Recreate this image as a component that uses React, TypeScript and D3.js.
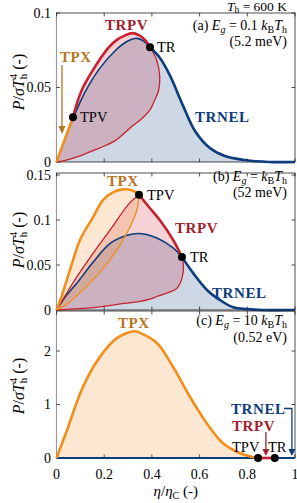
import React from 'react';
import * as d3 from 'd3';

type Pt = [number, number];

// ---- panel (a): Eg = 0.1 kB Th ----
const aTpx: Pt[] = [[0, 0], [0.069, 0.030]];
const aTrpvFront: Pt[] = [[0.069, 0.030], [0.091, 0.042], [0.111, 0.050], [0.150, 0.061], [0.182, 0.069], [0.219, 0.077], [0.253, 0.082], [0.288, 0.085], [0.317, 0.0865], [0.347, 0.085], [0.371, 0.082], [0.392, 0.077]];
const aTrpvLoop: Pt[] = [[0.392, 0.077], [0.421, 0.068], [0.433, 0.057], [0.428, 0.048], [0.413, 0.042], [0.392, 0.035], [0.350, 0.028], [0.317, 0.024], [0.248, 0.0145], [0.182, 0.0095], [0.120, 0.0055], [0.086, 0.0034], [0.041, 0.0013], [0, 0]];
const aTrnelRise: Pt[] = [[0, 0], [0.03, 0.013], [0.069, 0.029], [0.12, 0.047], [0.182, 0.063], [0.248, 0.075], [0.297, 0.081], [0.337, 0.083], [0.367, 0.081], [0.392, 0.077]];
const aTrnelFall: Pt[] = [[0.392, 0.077], [0.433, 0.070], [0.476, 0.058], [0.530, 0.038], [0.580, 0.021], [0.643, 0.0094], [0.706, 0.004], [0.79, 0.0013], [0.89, 0], [1, 0]];
const aTpv: Pt = [0.069, 0.030];
const aTr: Pt = [0.392, 0.077];

// ---- panel (b): Eg = kB Th ----
const bTpxUpper: Pt[] = [[0, 0], [0.02, 0.014], [0.056, 0.044], [0.099, 0.078], [0.153, 0.103], [0.195, 0.122], [0.238, 0.131], [0.278, 0.134], [0.307, 0.1335], [0.332, 0.131], [0.346, 0.128]];
const bTpxLower: Pt[] = [[0.346, 0.128], [0.337, 0.111], [0.296, 0.086], [0.225, 0.056], [0.140, 0.030], [0.081, 0.015], [0.041, 0.006], [0, 0]];
const bTrpvUpper: Pt[] = [[0, 0], [0.041, 0.018], [0.086, 0.037], [0.153, 0.063], [0.225, 0.089], [0.307, 0.119], [0.346, 0.128]];
const bTrpvFront: Pt[] = [[0.346, 0.128], [0.386, 0.115], [0.433, 0.100], [0.489, 0.078], [0.526, 0.059]];
const bTrpvLoop: Pt[] = [[0.526, 0.059], [0.532, 0.050], [0.530, 0.040], [0.519, 0.030], [0.504, 0.024], [0.465, 0.019], [0.421, 0.015], [0.392, 0.012], [0.350, 0.0095], [0.248, 0.006], [0.182, 0.0035], [0.1, 0.0015], [0, 0]];
const bTrnelRise: Pt[] = [[0, 0], [0.041, 0.016], [0.086, 0.030], [0.153, 0.053], [0.225, 0.074], [0.296, 0.083], [0.347, 0.085], [0.421, 0.080], [0.489, 0.069], [0.526, 0.059]];
const bTrnelFall: Pt[] = [[0.526, 0.059], [0.573, 0.041], [0.632, 0.022], [0.686, 0.011], [0.741, 0.003], [0.80, 0.001], [0.86, 0], [1, 0]];
const bTpv: Pt = [0.346, 0.128];
const bTr: Pt = [0.526, 0.059];

// ---- panel (c): Eg = 10 kB Th ----
const cTpx: Pt[] = [[0, 0], [0.044, 0.52], [0.111, 1.33], [0.182, 1.89], [0.253, 2.24], [0.329, 2.37], [0.35, 2.34], [0.421, 2.15], [0.489, 1.70], [0.56, 1.14], [0.630, 0.65], [0.697, 0.28], [0.769, 0.09], [0.823, 0.02], [0.845, 0]];
const cTrnel: Pt[] = [[0, 0], [1, 0]];
const cTrpv: Pt[] = [[0.845, 0], [0.915, 0]];
const cTpv: Pt = [0.845, 0];
const cTr: Pt = [0.915, 0];

const xTicks = [0, 0.2, 0.4, 0.6, 0.8, 1];
const xTickLabels = ['0', '0.2', '0.4', '0.6', '0.8', '1'];
const aYTicks = [0, 0.05, 0.1];
const aYLabels = ['0', '0.05', '0.1'];
const bYTicks = [0, 0.05, 0.1, 0.15];
const bYLabels = ['0', '0.05', '0.1', '0.15'];
const cYTicks = [0, 1, 2];
const cYLabels = ['0', '1', '2'];

const BLUE = '#0c3c7c';
const RED = '#c8202f';
const RED_TXT = '#a3202e';
const ORANGE = '#f28e1c';
const ORANGE_TXT = '#b8741f';
const FONT = '"Liberation Serif", "DejaVu Serif", serif';

const xS = d3.scaleLinear().domain([0, 1]).range([56.5, 295]);
const yA = d3.scaleLinear().domain([0, 0.1]).range([162, 13]);
const yB = d3.scaleLinear().domain([0, 0.15]).range([310, 175]);
const yC = d3.scaleLinear().domain([0, 2]).range([458, 351]);

const lineFor = (y: d3.ScaleLinear<number, number>) =>
  d3.line<Pt>().x(d => xS(d[0])).y(d => y(d[1])).curve(d3.curveCatmullRom.alpha(0.5));

const path = (y: d3.ScaleLinear<number, number>, b: Pt[]) => lineFor(y)(b) as string;

// glue several branches into one closed outline, keeping the corners
const joined = (y: d3.ScaleLinear<number, number>, branches: Pt[][]) =>
  branches.map((b, i) => {
    const p = path(y, b);
    return i ? 'L' + p.slice(1) : p;
  }).join('') + 'Z';

const Frame = ({ y, top, ticks, labels }: { y: d3.ScaleLinear<number, number>, top: number, ticks: number[], labels: string[] }) => {
  const bottom = y(0);
  const x0 = xS(0), x1 = xS(1);
  return (
    <g>
      <rect x={x0} y={top} width={x1 - x0} height={bottom - top} fill="none" stroke="#222" strokeWidth={0.8} />
      <line x1={x0} x2={x0} y1={top} y2={bottom} stroke="#999" strokeWidth={1.2} />
      {xTicks.map(t => (
        <g key={'x' + t}>
          <line x1={xS(t)} x2={xS(t)} y1={bottom} y2={bottom - 3.5} stroke="#222" strokeWidth={0.8} />
          <line x1={xS(t)} x2={xS(t)} y1={top} y2={top + 3.5} stroke="#222" strokeWidth={0.8} />
        </g>
      ))}
      {ticks.map((t, i) => (
        <g key={'y' + t}>
          <line x1={x0} x2={x0 + 3.5} y1={y(t)} y2={y(t)} stroke="#222" strokeWidth={0.8} />
          <line x1={x1} x2={x1 - 3.5} y1={y(t)} y2={y(t)} stroke="#222" strokeWidth={0.8} />
          <text x={51} y={y(t) + 4.5} textAnchor="end" fontSize={14}>{labels[i]}</text>
        </g>
      ))}
    </g>
  );
};

const Dot = ({ y, p }: { y: d3.ScaleLinear<number, number>, p: Pt }) => (
  <circle cx={xS(p[0])} cy={y(p[1])} r={4} fill="#000" />
);

const YLabel = ({ cy }: { cy: number }) => (
  <text transform={`translate(24,${cy}) rotate(-90)`} textAnchor="middle" fontSize={16}>
    <tspan fontStyle="italic">P</tspan>/<tspan fontStyle="italic">σT</tspan>
    <tspan fontSize={11} dy={3}>h</tspan>
    <tspan fontSize={11} dx={-5.5} dy={-10}>4</tspan>
    <tspan dy={7}> (-)</tspan>
  </text>
);

const Eg = ({ x, y, pre, mid }: { x: number, y: number, pre: string, mid: string }) => (
  <text x={x} y={y} textAnchor="end" fontSize={14}>
    {pre} <tspan fontStyle="italic">E</tspan><tspan fontSize={10} fontStyle="italic" dy={3}>g</tspan>
    <tspan dy={-3}>{mid}</tspan><tspan fontStyle="italic">k</tspan><tspan fontSize={10} dy={3}>B</tspan>
    <tspan dy={-3} fontStyle="italic">T</tspan><tspan fontSize={10} dy={3}>h</tspan>
  </text>
);

const bold = { fontWeight: 700, fontSize: 15, letterSpacing: 0.6 } as const;

const App = () => {
  const thick = 2.6, thin = 1.3;
  return (
    <svg width={297} height={503} style={{ position: 'absolute', left: 0, top: 0, fontFamily: FONT }}>
      <rect width={297} height={503} fill="#fff" />

      {/* ---------- panel a ---------- */}
      <path d={joined(yA, [aTrnelRise, aTrnelFall])} fill={BLUE} fillOpacity={0.2} />
      <path d={joined(yA, [aTrpvFront, aTrpvLoop])} fill={RED} fillOpacity={0.2} />
      <Frame y={yA} top={13} ticks={aYTicks} labels={aYLabels} />
      <path d={path(yA, aTrnelRise)} fill="none" stroke={BLUE} strokeWidth={1.6} />
      <path d={path(yA, aTrpvLoop)} fill="none" stroke={RED} strokeWidth={thin} />
      <path d={path(yA, aTrnelFall)} fill="none" stroke={BLUE} strokeWidth={thick} />
      <path d={path(yA, aTrpvFront)} fill="none" stroke={RED} strokeWidth={thick} />
      <path d={path(yA, aTpx)} fill="none" stroke={ORANGE} strokeWidth={thick} />
      <Dot y={yA} p={aTpv} />
      <Dot y={yA} p={aTr} />
      <text x={287} y={10.5} textAnchor="end" fontSize={13.5}>
        <tspan fontStyle="italic">T</tspan><tspan fontSize={9.5} dy={2.5}>h</tspan><tspan dy={-2.5}> = 600 K</tspan>
      </text>
      <Eg x={287} y={30} pre="(a)" mid=" = 0.1 " />
      <text x={287} y={46} textAnchor="end" fontSize={14}>(5.2 meV)</text>
      <text x={105} y={30} fill={RED_TXT} {...bold}>TRPV</text>
      <text x={60} y={62} fill={ORANGE_TXT} {...bold}>TPX</text>
      <line x1={62} x2={62} y1={65} y2={128} stroke={ORANGE_TXT} strokeWidth={1.3} />
      <polygon points="58.5,126 65.5,126 62,134" fill={ORANGE_TXT} />
      <text x={80} y={122} fontSize={14.5}>TPV</text>
      <text x={157} y={52} fontSize={14.5}>TR</text>
      <text x={195} y={122} fill={BLUE} {...bold}>TRNEL</text>

      {/* ---------- panel b ---------- */}
      <path d={joined(yB, [bTrnelRise, bTrnelFall])} fill={BLUE} fillOpacity={0.2} />
      <path d={joined(yB, [bTrpvUpper, bTrpvFront, bTrpvLoop])} fill={RED} fillOpacity={0.2} />
      <path d={joined(yB, [bTpxUpper, bTpxLower])} fill={ORANGE} fillOpacity={0.2} />
      <Frame y={yB} top={173} ticks={bYTicks} labels={bYLabels} />
      <path d={path(yB, bTrnelRise)} fill="none" stroke={BLUE} strokeWidth={1.6} />
      <path d={path(yB, bTrpvUpper)} fill="none" stroke={RED} strokeWidth={thin} />
      <path d={path(yB, bTrpvLoop)} fill="none" stroke={RED} strokeWidth={thin} />
      <path d={path(yB, bTpxLower)} fill="none" stroke={ORANGE} strokeWidth={thin} />
      <path d={path(yB, bTrnelFall)} fill="none" stroke={BLUE} strokeWidth={thick} />
      <path d={path(yB, bTrpvFront)} fill="none" stroke={RED} strokeWidth={thick} />
      <path d={path(yB, bTpxUpper)} fill="none" stroke={ORANGE} strokeWidth={thick} />
      <Dot y={yB} p={bTpv} />
      <Dot y={yB} p={bTr} />
      <Eg x={287} y={181} pre="(b)" mid=" = " />
      <text x={287} y={197} textAnchor="end" fontSize={14}>(52 meV)</text>
      <text x={107} y={186} fill={ORANGE_TXT} {...bold}>TPX</text>
      <text x={147} y={200} fontSize={14.5}>TPV</text>
      <text x={175} y={233} fill={RED_TXT} {...bold}>TRPV</text>
      <text x={190} y={262} fontSize={14.5}>TR</text>
      <text x={212} y={298} fill={BLUE} {...bold}>TRNEL</text>

      {/* ---------- panel c ---------- */}
      <path d={joined(yC, [cTpx])} fill={ORANGE} fillOpacity={0.2} />
      <Frame y={yC} top={311} ticks={cYTicks} labels={cYLabels} />
      <path d={path(yC, cTrnel)} fill="none" stroke={BLUE} strokeWidth={2.2} />
      <path d={path(yC, cTpx)} fill="none" stroke={ORANGE} strokeWidth={thick} />
      <path d={path(yC, cTrpv)} fill="none" stroke={RED} strokeWidth={thick} />
      <Dot y={yC} p={cTpv} />
      <Dot y={yC} p={cTr} />
      <Eg x={287} y={325} pre="(c)" mid=" = 10 " />
      <text x={287} y={342} textAnchor="end" fontSize={14}>(0.52 eV)</text>
      <text x={118} y={328} fill={ORANGE_TXT} {...bold}>TPX</text>
      <text x={231} y={414} fill={BLUE} {...bold}>TRNEL</text>
      <path d={`M284,408.5H${xS(0.987)}V450`} fill="none" stroke={BLUE} strokeWidth={1.3} />
      <polygon points={`${xS(0.987) - 3.5},449 ${xS(0.987) + 3.5},449 ${xS(0.987)},456`} fill={BLUE} />
      <text x={232} y={431} fill={RED_TXT} {...bold}>TRPV</text>
      <line x1={xS(0.878)} x2={xS(0.878)} y1={432} y2={450} stroke={RED_TXT} strokeWidth={1.3} />
      <polygon points={`${xS(0.878) - 3.5},449 ${xS(0.878) + 3.5},449 ${xS(0.878)},456`} fill={RED_TXT} />
      <text x={232} y={452} fontSize={14.5}>TPV</text>
      <text x={268} y={452} fontSize={14.5}>TR</text>

      {xTicks.map((t, i) => (
        <text key={t} x={xS(t)} y={479} textAnchor="middle" fontSize={14}>{xTickLabels[i]}</text>
      ))}
      <text x={175.75} y={496} textAnchor="middle" fontSize={15}>
        <tspan fontStyle="italic">η</tspan>/<tspan fontStyle="italic">η</tspan>
        <tspan fontSize={10} dy={3}>C</tspan><tspan dy={-3}> (-)</tspan>
      </text>

      <YLabel cy={82} />
      <YLabel cy={240} />
      <YLabel cy={386} />
    </svg>
  );
};

export default App;
